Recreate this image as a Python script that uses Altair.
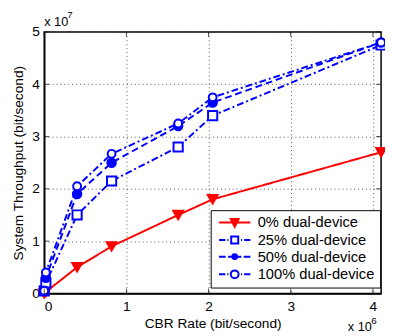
import altair as alt
import pandas as pd

cbr_rate = [0.0, 0.02, 0.4, 0.82, 1.63, 2.05, 4.1]  # x 10^6
series_names = ["0% dual-device", "25% dual-device", "50% dual-device", "100% dual-device"]
tp_0 = [0.0, 0.03, 0.5, 0.9, 1.5, 1.8, 2.7]          # x 10^7
tp_25 = [0.05, 0.2, 1.5, 2.15, 2.8, 3.4, 4.75]
tp_50 = [0.05, 0.3, 1.9, 2.5, 3.2, 3.65, 4.8]
tp_100 = [0.05, 0.4, 2.05, 2.67, 3.25, 3.75, 4.8]
x_ticks = [0, 1, 2, 3, 4]
y_ticks = [0, 1, 2, 3, 4, 5]

rows = []
for name, vals in zip(series_names, [tp_0, tp_25, tp_50, tp_100]):
    for x, y in zip(cbr_rate, vals):
        rows.append({"series": name, "x": x, "y": y})
df = pd.DataFrame(rows)

colors = ["#ff0000", "#0000ff", "#0000ff", "#0000ff"]
shapes = ["triangle-down", "square", "circle", "circle"]
fills = ["#ff0000", "#ffffff", "#0000ff", "#ffffff"]
dashes = [[1, 0], [7, 3, 2, 3], [7, 4], [7, 3, 2, 3]]
sizes = [100, 64, 36, 90]

# legend glyphs: line + marker (units of 4px)
dashdot = "M-1,0H0.6M1.1,0H1.4M4.6,0H4.9M5.4,0H7"
legend_paths = [
    "M-1,0H7M2,-0.9L4,-0.9L3,1.1Z",
    dashdot + "M2.1,-0.9H3.9V0.9H2.1Z",
    "M-1,0H0.7M1.3,0H2.4M3.6,0H4.7M5.3,0H7M2.4,0A0.6,0.6 0 1,0 3.6,0A0.6,0.6 0 1,0 2.4,0Z",
    dashdot + "M2,0A1,1 0 1,0 4,0A1,1 0 1,0 2,0Z",
]

font = "Liberation Sans"
fs = 14
xs = alt.Scale(domain=[0, 4.1], nice=False, zero=False)
ys = alt.Scale(domain=[0, 5], nice=False)

base = alt.Chart(df)
lines = base.mark_line(strokeWidth=2).encode(
    x=alt.X("x:Q", scale=xs,
            axis=alt.Axis(title="CBR Rate (bit/second)", values=x_ticks, format="d", grid=True,
                          gridDash=[1, 3], gridColor="#555", ticks=False,
                          domainColor="black", labelFont=font, labelFontSize=fs, labelColor="black",
                          titleFont=font, titleFontSize=fs, titleFontWeight="normal",
                          titleColor="black", labelPadding=6, titlePadding=4)),
    y=alt.Y("y:Q", scale=ys,
            axis=alt.Axis(title="System Throughput (bit/second)", values=y_ticks, format="d",
                          grid=True, gridDash=[1, 3], gridColor="#555", ticks=False,
                          domainColor="black", labelFont=font, labelFontSize=fs,
                          labelColor="black", titleFont=font, titleFontSize=fs,
                          titleFontWeight="normal", titleColor="black", labelPadding=5, titlePadding=6)),
    color=alt.Color("series:N", scale=alt.Scale(domain=series_names, range=colors), legend=None),
    strokeDash=alt.StrokeDash("series:N", scale=alt.Scale(domain=series_names, range=dashes), legend=None),
)
points = base.mark_point(strokeWidth=2, opacity=1).encode(
    x="x:Q", y="y:Q",
    color=alt.Color("series:N", scale=alt.Scale(domain=series_names, range=colors), legend=None),
    shape=alt.Shape("series:N", scale=alt.Scale(domain=series_names, range=shapes), legend=None),
    fill=alt.Fill("series:N", scale=alt.Scale(domain=series_names, range=fills), legend=None),
    size=alt.Size("series:N", scale=alt.Scale(domain=series_names, range=sizes), legend=None),
)

leg = dict(orient="none", legendX=170, legendY=182, fillColor="white", strokeColor="black",
           padding=5, labelFont=font, labelFontSize=15, labelColor="black", symbolSize=64,
           symbolStrokeWidth=2, symbolOpacity=1, rowPadding=1, labelOffset=28, cornerRadius=0,
           labelLimit=300, title=None)
legend_layer = base.mark_point(opacity=0, size=64, strokeWidth=2).encode(
    x="x:Q", y="y:Q",
    color=alt.Color("series:N", scale=alt.Scale(domain=series_names, range=colors), legend=alt.Legend(**leg)),
    shape=alt.Shape("series:N", scale=alt.Scale(domain=series_names, range=legend_paths), legend=alt.Legend(**leg)),
    fill=alt.Fill("series:N", scale=alt.Scale(domain=series_names, range=fills), legend=alt.Legend(**leg)),
)

xt = pd.DataFrame({"v": x_ticks})
yt = pd.DataFrame({"v": y_ticks})
tick_b = alt.Chart(xt).mark_tick(color="black", size=5, thickness=1).encode(x="v:Q", y=alt.value(264.5))
tick_t = alt.Chart(xt).mark_tick(color="black", size=5, thickness=1).encode(x="v:Q", y=alt.value(2.5))
tick_l = alt.Chart(yt).mark_tick(color="black", size=5, thickness=1).encode(y="v:Q", x=alt.value(2.5))
tick_r = alt.Chart(yt).mark_tick(color="black", size=5, thickness=1).encode(y="v:Q", x=alt.value(341.5))

def txt(t, size, x, y, align="left"):
    return alt.Chart(pd.DataFrame({"t": [t]})).mark_text(
        font=font, fontSize=size, align=align, baseline="alphabetic", color="black"
    ).encode(text="t:N", x=alt.value(x), y=alt.value(y))

ann = [txt("x 10", 13, 0, -6), txt("7", 10, 23.5, -14),
       txt("x 10", 13, 310, 305), txt("6", 10, 334, 298)]

chart = alt.layer(lines, points, legend_layer, tick_b, tick_t, tick_l, tick_r, *ann).resolve_scale(
    color="independent", shape="independent", fill="independent", size="independent",
    strokeDash="independent"
).properties(
    width=344, height=267,
    autosize=alt.AutoSizeParams(type="none"),
    padding={"left": 37, "top": 21, "right": 4, "bottom": 40},
).configure_view(stroke="black", strokeWidth=1.5).configure_axis(domainWidth=1.5)

chart.save("out.html", embed_options={"renderer": "svg", "actions": False})
